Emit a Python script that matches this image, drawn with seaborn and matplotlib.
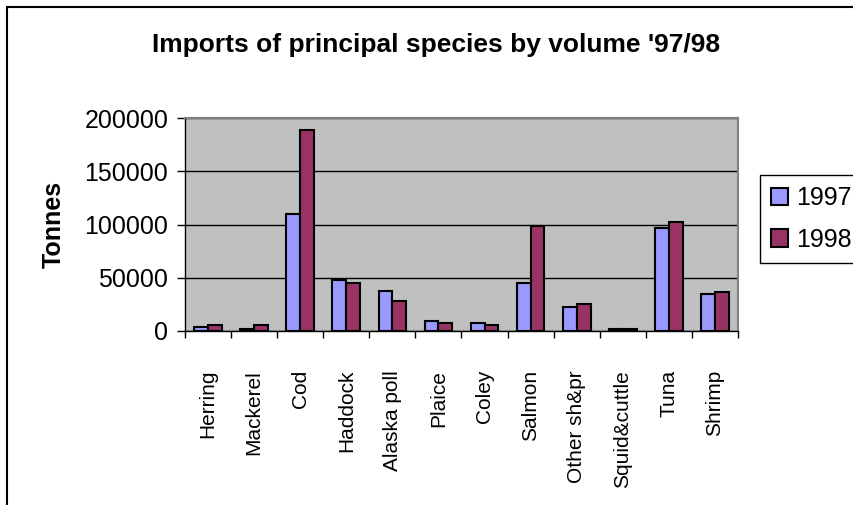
import pandas as pd
import matplotlib
matplotlib.use("Agg")
import matplotlib.pyplot as plt
from matplotlib.patches import Rectangle
from matplotlib.ticker import FixedLocator
import seaborn as sns

# Data
arter = ["Herring", "Mackerel", "Cod", "Haddock", "Alaska poll", "Plaice",
         "Coley", "Salmon", "Other sh&pr", "Squid&cuttle", "Tuna", "Shrimp"]
tonn_1997 = [3800, 2200, 110000, 47500, 37800, 9800, 7900, 45300, 22700, 2000, 96500, 34500]
tonn_1998 = [5700, 5700, 188800, 45400, 28300, 7900, 5700, 98200, 25200, 2000, 101900, 36300]
aar = ["1997", "1998"]
farger = {"1997": "#9999FF", "1998": "#993366"}

df = pd.DataFrame({
    "art": arter * 2,
    "tonn": tonn_1997 + tonn_1998,
    "år": [aar[0]] * len(arter) + [aar[1]] * len(arter),
})

plt.rcParams["font.family"] = ["Liberation Sans", "DejaVu Sans"]

W, H = 854, 505
fig = plt.figure(figsize=(W / 100, H / 100), dpi=100)
fig.patch.set_facecolor("white")
ax = fig.add_axes([185 / W, 1 - 331 / H, 553 / W, 213 / H])
ax.set_facecolor("#C0C0C0")

sns.barplot(data=df, x="art", y="tonn", hue="år", palette=farger, order=arter,
            hue_order=aar, width=0.6, gap=0, edgecolor="black", linewidth=1.5,
            saturation=1, ax=ax, legend=True)

# Akser
ax.set_xlim(-0.5, len(arter) - 0.5)
ax.set_ylim(0, 200000)
ax.set_yticks([0, 50000, 100000, 150000, 200000])
ax.set_yticklabels(["0", "50000", "100000", "150000", "200000"])
ax.yaxis.grid(True, color="black", linewidth=1)
ax.set_axisbelow(True)
ax.tick_params(axis="y", labelsize=18, length=6, width=1, direction="out", pad=6)

ax.xaxis.set_minor_locator(FixedLocator([i - 0.5 for i in range(len(arter) + 1)]))
ax.tick_params(axis="x", which="minor", length=5, width=1, direction="out")
ax.tick_params(axis="x", which="major", length=0, labelsize=15, pad=28)
plt.setp(ax.get_xticklabels(), rotation=90, va="top")

for side in ["left", "bottom"]:
    ax.spines[side].set_color("black")
    ax.spines[side].set_linewidth(1)
for side in ["top", "right"]:
    ax.spines[side].set_color("#808080")
    ax.spines[side].set_linewidth(1.5)

ax.set_xlabel("")
ax.set_ylabel("Tonnes", fontsize=18, fontweight="bold")
ax.yaxis.set_label_coords(-0.215, 0.5)

# Tittel
fig.text(436 / W, 1 - 52 / H, "Imports of principal species by volume '97/98",
         ha="center", va="baseline", fontsize=19, fontweight="bold")

# Forklaring
leg = ax.legend(loc="upper left", bbox_to_anchor=(760 / W, 1 - 175 / H),
                bbox_transform=fig.transFigure, borderaxespad=0, fontsize=18,
                frameon=True, fancybox=False, framealpha=1, edgecolor="black",
                handlelength=0.68, handleheight=0.68, handletextpad=0.32,
                borderpad=0.45, labelspacing=0.7, title=None)
leg.get_frame().set_linewidth(1)

# Ramme rundt diagrammet
fig.add_artist(Rectangle((7 / W, -0.5), 2, 1.5 - 7 / H, transform=fig.transFigure,
                         fill=False, edgecolor="black", linewidth=1.5))

fig.savefig("out.png", dpi=100)
